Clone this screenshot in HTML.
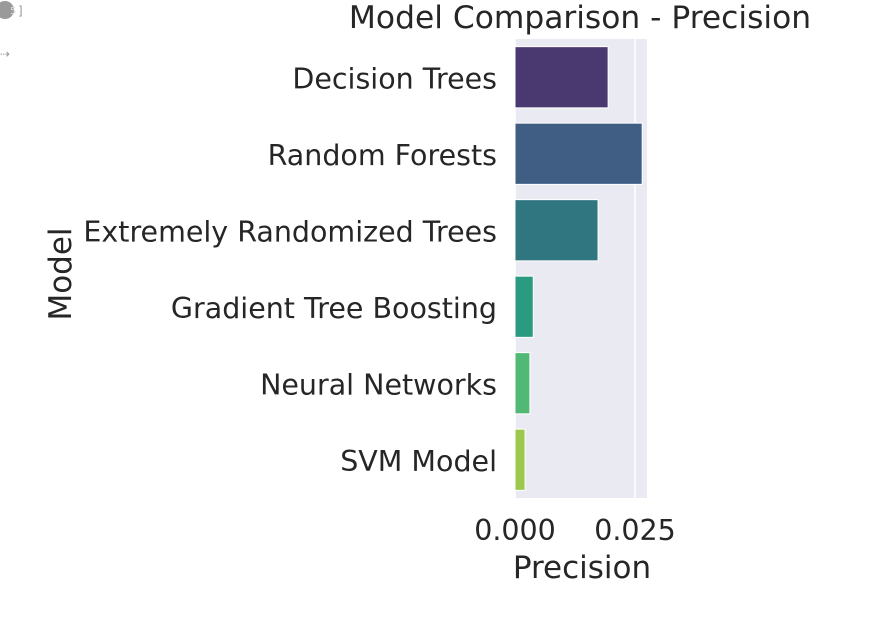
<!DOCTYPE html>
<html><head><meta charset="utf-8"><style>
body{margin:0;background:#fff;width:896px;height:613px;overflow:hidden;font-family:"Liberation Sans","DejaVu Sans",sans-serif}
</style></head><body>
<svg width="896" height="613" font-family="DejaVu Sans, Liberation Sans, sans-serif">
<circle cx="5" cy="10" r="9" fill="#9a9a9a"/>
<text x="10" y="14" font-size="10" fill="#ddd">5</text>
<text x="18" y="15" font-size="12" fill="#999">]</text>
<text x="0" y="58" font-size="12" fill="#999">⇢</text>
<text x="580" y="28" font-size="31.3" fill="#262626" text-anchor="middle">Model Comparison - Precision</text>
<rect x="515" y="39" width="132" height="459" fill="#eaeaf2"/>
<g id="grid"></g><g id="bars"></g><g id="ylabels"></g><g id="xticks"></g>
<text x="582" y="578" font-size="31" fill="#262626" text-anchor="middle">Precision</text>
<text transform="translate(71,274) rotate(-90)" font-size="31" fill="#262626" text-anchor="middle">Model</text>
</svg>
<script>
const categories=["Decision Trees","Random Forests","Extremely Randomized Trees","Gradient Tree Boosting","Neural Networks","SVM Model"];
const precision=[0.0194,0.0265,0.0173,0.0038,0.0031,0.0021];
const colors=["#4a3870","#405d83","#2f7681","#2a9a80","#52b876","#9bc84d"];
const xTicks=[0,0.025];
const xTickLabels=["0.000","0.025"];
const NS="http://www.w3.org/2000/svg";
const x0=515,pxPer=4800,plotTop=39,band=459/6;
const xs=v=>x0+v*pxPer;
function mk(t,a,p){const e=document.createElementNS(NS,t);for(const k in a)e.setAttribute(k,a[k]);p.appendChild(e);return e;}
const grid=document.getElementById('grid'),bars=document.getElementById('bars'),yl=document.getElementById('ylabels'),xt=document.getElementById('xticks');
xTicks.forEach((v,i)=>{
 const l=mk('line',{x1:xs(v),x2:xs(v),y1:plotTop,y2:plotTop+459,stroke:'#fff','stroke-width':1.5},grid);
 
 
 const t=mk('text',{x:xs(v),y:540,'font-size':28.5,fill:'#262626','text-anchor':'middle'},xt);
 t.textContent=xTickLabels[i];
 
 
});
categories.forEach((c,i)=>{
 const cy=plotTop+band*(i+0.5);
 const r=mk('rect',{x:x0,y:cy-band*0.4,width:xs(precision[i])-x0,height:band*0.8,fill:colors[i],stroke:'#fff','stroke-width':1},bars);
 
 
 const t=mk('text',{x:497,y:cy+11,'font-size':28.5,fill:'#262626','text-anchor':'end'},yl);
 t.textContent=c;
 
 
});
</script>
</body></html>
